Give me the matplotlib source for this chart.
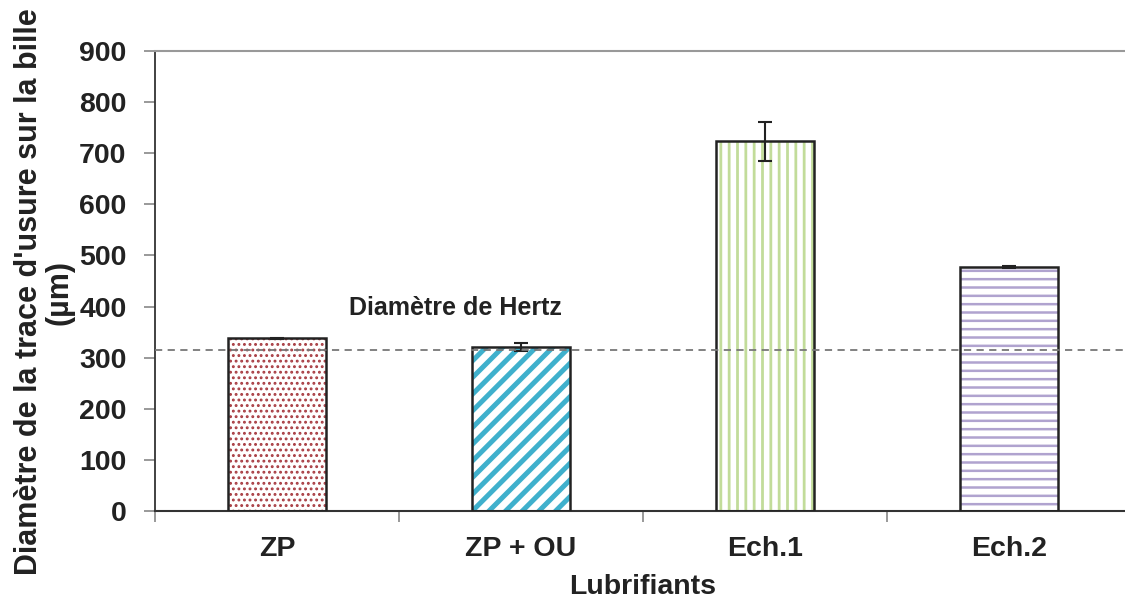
import matplotlib
matplotlib.use("Agg")
import matplotlib.pyplot as plt
import numpy as np

plt.rcParams['font.family'] = ['Liberation Sans', 'DejaVu Sans']

# Wear-scar diameter on the ball for each lubricant
categories = ["ZP", "ZP + OU", "Ech.1", "Ech.2"]
diameters = [338, 321, 723, 477]
errors = [1, 7, 39, 2]
hertz_diameter = 315

hatch_colors = ["#a83c42", "#3fb0cc", "#c2dc9a", "#b0a3cf"]
hatches = ["...", "//", "||", "--"]
hatch_widths = [1.3, 3.6, 2.0, 1.8]

fig = plt.figure(figsize=(11.25, 5.99), dpi=100)
ax = fig.add_axes([155 / 1125, 88 / 599, 976 / 1125, 460 / 599])

x = np.arange(len(categories))
width = 0.40

for xi, val, hc, h, hw in zip(x, diameters, hatch_colors, hatches, hatch_widths):
    with plt.rc_context({'hatch.linewidth': hw}):
        b = ax.bar(xi, val, width=width, color="white", edgecolor=hc,
                   hatch=h, linewidth=0, zorder=2)
    for p in b:
        if hasattr(p, "set_hatch_linewidth"):
            p.set_hatch_linewidth(hw)

ax.bar(x, diameters, width=width, fill=False, edgecolor="#222222",
       linewidth=1.8, zorder=3)
ax.errorbar(x, diameters, yerr=errors, fmt="none", ecolor="#222222",
            elinewidth=1.5, capsize=5, capthick=1.5, zorder=4)

# Hertz contact diameter reference
ax.axhline(hertz_diameter, color="#777777", linestyle=(0, (4, 3)),
           linewidth=1.3, zorder=5)
ax.text(0.73, 397, "Diamètre de Hertz", ha="center", va="center",
        fontsize=18, fontweight="bold", color="#222222")

ax.set_xlim(-0.5, len(categories) - 0.5)
ax.set_ylim(0, 900)
ax.set_yticks(np.arange(0, 901, 100))
ax.set_xticks(x)
ax.set_xticklabels(categories, fontsize=20.5, fontweight="bold", color="#222222")
ax.set_xticks(np.arange(-0.5, len(categories), 1.0), minor=True)
ax.tick_params(axis="x", which="major", length=0, pad=18)
ax.tick_params(axis="x", which="minor", length=8, color="#888888", width=1.2)
ax.tick_params(axis="y", length=8, color="#888888", width=1.2, pad=12.5,
               labelsize=20.5)
for lab in ax.get_yticklabels():
    lab.set_fontweight("bold")
    lab.set_color("#222222")

ax.spines["right"].set_visible(False)
ax.spines["top"].set_color("#999999")
ax.spines["top"].set_linewidth(1.5)
ax.spines["left"].set_color("#333333")
ax.spines["left"].set_linewidth(1.3)
ax.spines["bottom"].set_color("#333333")
ax.spines["bottom"].set_linewidth(1.5)

ax.set_xlabel("Lubrifiants", fontsize=20.5, fontweight="bold", color="#222222",
              labelpad=9)
fig.text(44 / 1125, 1 - 292 / 599,
         "Diamètre de la trace d'usure sur la bille\n(µm)",
         rotation=90, ha="center", va="center", multialignment="center",
         fontsize=22, fontweight="bold", color="#222222", linespacing=1.0)

fig.savefig("out.png", dpi=100)
